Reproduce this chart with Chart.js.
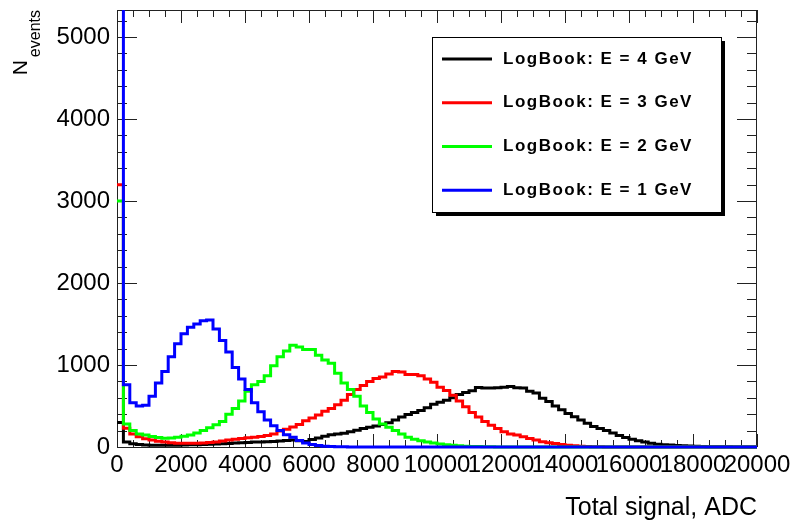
<!DOCTYPE html>
<html>
<head>
<meta charset="utf-8">
<script src="https://cdn.jsdelivr.net/npm/chart.js@4.4.1/dist/chart.umd.min.js"></script>
<style>
  html, body { margin: 0; padding: 0; background: #fff; }
  #wrap { width: 794px; height: 523px; position: relative; }
</style>
</head>
<body>
<div id="wrap"><canvas id="chart"></canvas></div>
<script>
// histogram binning (ADC), 100 bins of 200
var binWidth = 200
var nBins = 100

// N events per bin
var e4GeV = [
  300, 60, 40, 30, 25, 22, 20, 20, 20, 22,
  24, 26, 28, 30, 33, 36, 40, 44, 48, 52,
  56, 60, 62, 64, 66, 72, 80, 84, 75, 68,
  90, 110, 130, 148, 160, 168, 185, 205, 225, 240,
  255, 275, 295, 330, 365, 395, 420, 445, 480, 520,
  545, 570, 600, 640, 665, 685, 725, 720, 720, 722,
  730, 738, 722, 720, 680, 660, 595, 555, 500, 455,
  410, 370, 330, 290, 250, 225, 200, 170, 140, 115,
  95, 75, 60, 45, 35, 28, 24, 18, 14, 11,
  8, 6, 4, 3, 2, 2, 1, 1, 0, 0
]
var e3GeV = [
  3200, 230, 160, 125, 100, 85, 70, 60, 52, 46,
  45, 45, 45, 48, 55, 62, 72, 85, 95, 105,
  112, 120, 128, 140, 160, 195, 215, 245, 275, 320,
  355, 390, 435, 470, 515, 570, 640, 700, 750, 800,
  835, 855, 890, 920, 915, 885, 885, 870, 830, 790,
  730, 690, 630, 560, 490, 420, 365, 310, 265, 225,
  185, 160, 145, 125, 105, 85, 65, 52, 42, 32,
  22, 15, 10, 6, 4, 2, 1, 0, 0, 0,
  0, 0, 0, 0, 0, 0, 0, 0, 0, 0,
  0, 0, 0, 0, 0, 0, 0, 0, 0, 0
]
var e2GeV = [
  3000, 280, 200, 160, 145, 128, 115, 106, 110, 118,
  130, 147, 170, 200, 235, 270, 310, 400, 470, 560,
  680, 760, 800, 870, 990, 1100, 1170, 1240, 1220, 1190,
  1190, 1120, 1060, 1020, 900, 780, 700, 620, 500, 420,
  340, 280, 240, 200, 160, 120, 95, 75, 60, 48,
  38, 28, 20, 14, 10, 7, 5, 3, 2, 1,
  0, 0, 0, 0, 0, 0, 0, 0, 0, 0,
  0, 0, 0, 0, 0, 0, 0, 0, 0, 0,
  0, 0, 0, 0, 0, 0, 0, 0, 0, 0,
  0, 0, 0, 0, 0, 0, 0, 0, 0, 0
]
var e1GeV = [
  5400, 760, 540, 500, 510, 620, 780, 920, 1100, 1260,
  1380, 1460, 1500, 1540, 1550, 1440, 1300, 1160, 970, 830,
  700, 540, 430, 330, 260, 200, 150, 120, 80, 50,
  30, 18, 10, 6, 4, 2, 1, 0, 0, 0,
  0, 0, 0, 0, 0, 0, 0, 0, 0, 0,
  0, 0, 0, 0, 0, 0, 0, 0, 0, 0,
  0, 0, 0, 0, 0, 0, 0, 0, 0, 0,
  0, 0, 0, 0, 0, 0, 0, 0, 0, 0,
  0, 0, 0, 0, 0, 0, 0, 0, 0, 0,
  0, 0, 0, 0, 0, 0, 0, 0, 0, 0
]

var seriesLabels = ['LogBook: E = 4 GeV', 'LogBook: E = 3 GeV', 'LogBook: E = 2 GeV', 'LogBook: E = 1 GeV']
var seriesColors = ['#000000', '#ff0000', '#00ff00', '#0000ff']
var seriesValues = [e4GeV, e3GeV, e2GeV, e1GeV]

// axis ranges and labelled ticks
var xMax = 20000
var yMax = 5330
var xTickValues = [0, 2000, 4000, 6000, 8000, 10000, 12000, 14000, 16000, 18000, 20000]
var yTickValues = [0, 1000, 2000, 3000, 4000, 5000]

var FONT = '"Liberation Sans", Arial, Helvetica, sans-serif'

// turn bin contents into step points, one per low edge plus the last high edge
function toSteps(values) {
  var pts = []
  for (var i = 0; i < nBins; i++) {
    pts.push({ x: i * binWidth, y: values[i] })
  }
  pts.push({ x: nBins * binWidth, y: values[nBins - 1] })
  return pts
}

// ROOT style frame: box with inward ticks on all four sides
var rootFrame = {
  id: 'rootFrame',
  beforeDatasetsDraw(chart) {
    var ctx = chart.ctx
    var a = chart.chartArea
    var xs = chart.scales.x
    var ys = chart.scales.y
    ctx.save()
    ctx.strokeStyle = '#222'
    ctx.lineWidth = 1
    ctx.strokeRect(a.left + 0.5, a.top + 0.5, a.right - a.left - 1, a.bottom - a.top)
    ctx.beginPath()
    for (var v = 0; v <= xMax; v += 500) {
      var px = Math.round(xs.getPixelForValue(v)) + 0.5
      var len = v % 2000 === 0 ? 13 : 7
      ctx.moveTo(px, a.bottom)
      ctx.lineTo(px, a.bottom - len)
      ctx.moveTo(px, a.top)
      ctx.lineTo(px, a.top + len)
    }
    for (var w = 0; w <= yMax; w += 200) {
      var py = Math.round(ys.getPixelForValue(w)) + 0.5
      var l2 = w % 1000 === 0 ? 20 : 10
      ctx.moveTo(a.left, py)
      ctx.lineTo(a.left + l2, py)
      ctx.moveTo(a.right, py)
      ctx.lineTo(a.right - l2, py)
    }
    ctx.stroke()
    ctx.restore()
  },
  afterDraw(chart) {
    var ctx = chart.ctx
    var a = chart.chartArea
    ctx.save()

    // y title with subscript: N_events
    ctx.fillStyle = '#000'
    ctx.translate(27, a.top)
    ctx.rotate(-Math.PI / 2)
    ctx.textBaseline = 'alphabetic'
    ctx.font = '21px ' + FONT
    var wN = ctx.measureText('N').width
    ctx.font = '16px ' + FONT
    var wE = ctx.measureText('events').width
    ctx.font = '21px ' + FONT
    ctx.fillText('N', -(wN + wE + 3), 0)
    ctx.font = '16px ' + FONT
    ctx.fillText('events', -wE, 13)
    ctx.restore()

    // legend box with shadow
    var box = { x: 432, y: 37, w: 289, h: 175 }
    ctx.save()
    ctx.fillStyle = '#000'
    ctx.fillRect(box.x + 4, box.y + 4, box.w, box.h)
    ctx.fillStyle = '#fff'
    ctx.fillRect(box.x, box.y, box.w, box.h)
    ctx.strokeStyle = '#000'
    ctx.lineWidth = 1
    ctx.strokeRect(box.x + 0.5, box.y + 0.5, box.w, box.h)
    ctx.font = 'bold 17px ' + FONT
    ctx.letterSpacing = '1.5px'
    ctx.textBaseline = 'middle'
    chart.data.datasets.forEach(function (ds, i) {
      var cy = box.y + (i + 0.5) * box.h / 4
      ctx.strokeStyle = ds.borderColor
      ctx.lineWidth = 3
      ctx.beginPath()
      ctx.moveTo(box.x + 10, cy)
      ctx.lineTo(box.x + 60, cy)
      ctx.stroke()
      ctx.fillStyle = '#000'
      ctx.fillText(ds.label, box.x + 71, cy)
    })
    ctx.restore()
  }
}

var datasets = seriesValues.map(function (vals, i) {
  return {
    label: seriesLabels[i],
    data: toSteps(vals),
    borderColor: seriesColors[i],
    backgroundColor: seriesColors[i],
    borderWidth: 3,
    stepped: 'before',
    pointRadius: 0,
    fill: false,
    order: seriesValues.length - 1 - i,
    clip: { left: 2, top: 0, right: 2, bottom: 2 }
  }
})

Chart.defaults.color = '#000'

new Chart(document.getElementById('chart'), {
  type: 'line',
  data: { datasets: datasets },
  options: {
    responsive: true,
    maintainAspectRatio: false,
    animation: false,
    layout: { padding: { top: 10, right: 37, bottom: 0, left: 0 } },
    plugins: {
      legend: { display: false },
      tooltip: { enabled: false }
    },
    scales: {
      x: {
        type: 'linear',
        min: 0,
        max: xMax,
        grid: { display: false, drawTicks: false },
        border: { display: false },
        afterBuildTicks: function (s) {
          s.ticks = xTickValues.map(function (v) { return { value: v } })
        },
        ticks: {
          autoSkip: false,
          maxRotation: 0,
          minRotation: 0,
          padding: 4,
          color: '#000',
          font: { family: FONT, size: 24 },
          callback: function (v) { return String(v) }
        },
        title: {
          display: true,
          text: 'Total signal, ADC',
          align: 'end',
          color: '#000',
          font: { family: FONT, size: 25 },
          padding: { top: 0, bottom: 0 }
        },
        afterFit: function (s) {
          s.height = 76
          s.paddingLeft = 0
          s.paddingRight = 0
        }
      },
      y: {
        min: 0,
        max: yMax,
        grid: { display: false, drawTicks: false },
        border: { display: false },
        afterBuildTicks: function (s) {
          s.ticks = yTickValues.map(function (v) { return { value: v } })
        },
        ticks: {
          autoSkip: false,
          padding: 7,
          color: '#000',
          font: { family: FONT, size: 24 },
          callback: function (v) { return String(v) }
        },
        afterFit: function (s) {
          s.width = 117
          s.paddingTop = 0
          s.paddingBottom = 0
        }
      }
    }
  },
  plugins: [rootFrame]
})
</script>
</body>
</html>
